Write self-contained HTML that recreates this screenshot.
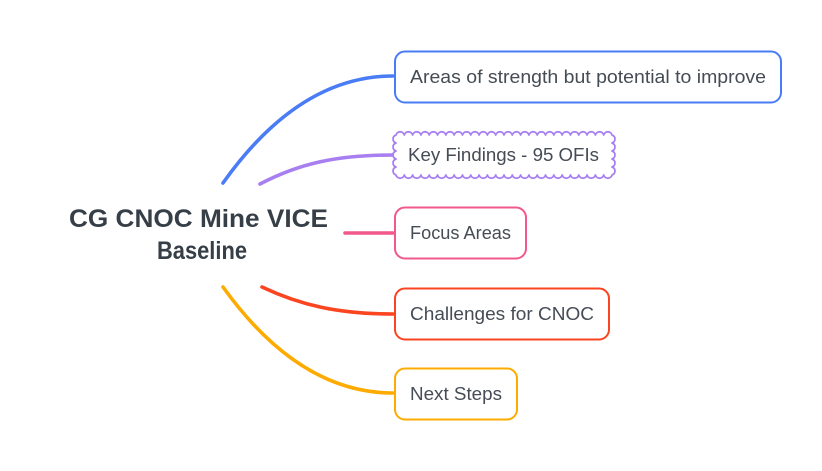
<!DOCTYPE html>
<html>
<head>
<meta charset="utf-8">
<style>
  html, body { margin: 0; padding: 0; background: #ffffff; }
  body { width: 822px; height: 471px; overflow: hidden; }
  svg { display: block; }
  .t { font-family: "Liberation Sans", sans-serif; font-size: 18.5px; fill: #454c55; }
  .c { font-family: "Liberation Sans", sans-serif; font-size: 25px; font-weight: bold; fill: #363f48; }
</style>
</head>
<body>
<svg width="822" height="471" viewBox="0 0 822 471" xmlns="http://www.w3.org/2000/svg">
  <rect width="822" height="471" fill="#ffffff"/>

  <!-- connectors -->
  <g fill="none" stroke-width="3.6" stroke-linecap="round">
    <path d="M223,183 Q299,76 393,76" stroke="#4a7cf5"/>
    <path d="M260,184 C300,163 338,155 393,155" stroke="#a87ff0"/>
    <path d="M345,233 L393,233" stroke="#f1588b"/>
    <path d="M262,287 C300,305 338,314 393,314" stroke="#fb4420"/>
    <path d="M223,287 Q299,393 393,393" stroke="#fdab00"/>
  </g>

  <!-- node boxes -->
  <rect x="395" y="51.5" width="386" height="51" rx="10" ry="10" fill="#fff" stroke="#4a7cf5" stroke-width="2"/>
  <path fill="#fff" stroke="#a87ff0" stroke-width="1.8" stroke-linejoin="round"
    d="M396,135
    a4.3,4.3 0 0 1 8.3077,0 a4.3,4.3 0 0 1 8.3077,0 a4.3,4.3 0 0 1 8.3077,0 a4.3,4.3 0 0 1 8.3077,0 a4.3,4.3 0 0 1 8.3077,0
    a4.3,4.3 0 0 1 8.3077,0 a4.3,4.3 0 0 1 8.3077,0 a4.3,4.3 0 0 1 8.3077,0 a4.3,4.3 0 0 1 8.3077,0 a4.3,4.3 0 0 1 8.3077,0
    a4.3,4.3 0 0 1 8.3077,0 a4.3,4.3 0 0 1 8.3077,0 a4.3,4.3 0 0 1 8.3077,0 a4.3,4.3 0 0 1 8.3077,0 a4.3,4.3 0 0 1 8.3077,0
    a4.3,4.3 0 0 1 8.3077,0 a4.3,4.3 0 0 1 8.3077,0 a4.3,4.3 0 0 1 8.3077,0 a4.3,4.3 0 0 1 8.3077,0 a4.3,4.3 0 0 1 8.3077,0
    a4.3,4.3 0 0 1 8.3077,0 a4.3,4.3 0 0 1 8.3077,0 a4.3,4.3 0 0 1 8.3077,0 a4.3,4.3 0 0 1 8.3077,0 a4.3,4.3 0 0 1 8.3077,0
    a4.3,4.3 0 0 1 8.3077,0
    a4.2,4.2 0 0 1 0,8 a4.2,4.2 0 0 1 0,8 a4.2,4.2 0 0 1 0,8 a4.2,4.2 0 0 1 0,8 a4.2,4.2 0 0 1 0,8
    a4.3,4.3 0 0 1 -8.3077,0 a4.3,4.3 0 0 1 -8.3077,0 a4.3,4.3 0 0 1 -8.3077,0 a4.3,4.3 0 0 1 -8.3077,0 a4.3,4.3 0 0 1 -8.3077,0
    a4.3,4.3 0 0 1 -8.3077,0 a4.3,4.3 0 0 1 -8.3077,0 a4.3,4.3 0 0 1 -8.3077,0 a4.3,4.3 0 0 1 -8.3077,0 a4.3,4.3 0 0 1 -8.3077,0
    a4.3,4.3 0 0 1 -8.3077,0 a4.3,4.3 0 0 1 -8.3077,0 a4.3,4.3 0 0 1 -8.3077,0 a4.3,4.3 0 0 1 -8.3077,0 a4.3,4.3 0 0 1 -8.3077,0
    a4.3,4.3 0 0 1 -8.3077,0 a4.3,4.3 0 0 1 -8.3077,0 a4.3,4.3 0 0 1 -8.3077,0 a4.3,4.3 0 0 1 -8.3077,0 a4.3,4.3 0 0 1 -8.3077,0
    a4.3,4.3 0 0 1 -8.3077,0 a4.3,4.3 0 0 1 -8.3077,0 a4.3,4.3 0 0 1 -8.3077,0 a4.3,4.3 0 0 1 -8.3077,0 a4.3,4.3 0 0 1 -8.3077,0
    a4.3,4.3 0 0 1 -8.3077,0
    a4.2,4.2 0 0 1 0,-8 a4.2,4.2 0 0 1 0,-8 a4.2,4.2 0 0 1 0,-8 a4.2,4.2 0 0 1 0,-8 a4.2,4.2 0 0 1 0,-8 z"/>
  <rect x="395" y="207.5" width="131" height="51" rx="10" ry="10" fill="#fff" stroke="#f1588b" stroke-width="2"/>
  <rect x="395" y="288.5" width="214" height="51" rx="10" ry="10" fill="#fff" stroke="#fb4420" stroke-width="2"/>
  <rect x="395" y="368.5" width="122" height="51" rx="10" ry="10" fill="#fff" stroke="#fdab00" stroke-width="2"/>

  <!-- node labels -->
  <text class="t" x="410" y="83" textLength="356" lengthAdjust="spacingAndGlyphs">Areas of strength but potential to improve</text>
  <text class="t" x="408" y="161" textLength="191" lengthAdjust="spacingAndGlyphs">Key Findings - 95 OFIs</text>
  <text class="t" x="410" y="239" textLength="101" lengthAdjust="spacingAndGlyphs">Focus Areas</text>
  <text class="t" x="410" y="320" textLength="184" lengthAdjust="spacingAndGlyphs">Challenges for CNOC</text>
  <text class="t" x="410" y="400" textLength="92" lengthAdjust="spacingAndGlyphs">Next Steps</text>

  <!-- central topic -->
  <text class="c" x="69" y="227" textLength="259" lengthAdjust="spacingAndGlyphs">CG CNOC Mine VICE</text>
  <text class="c" x="157" y="259" textLength="90" lengthAdjust="spacingAndGlyphs">Baseline</text>
</svg>
</body>
</html>
